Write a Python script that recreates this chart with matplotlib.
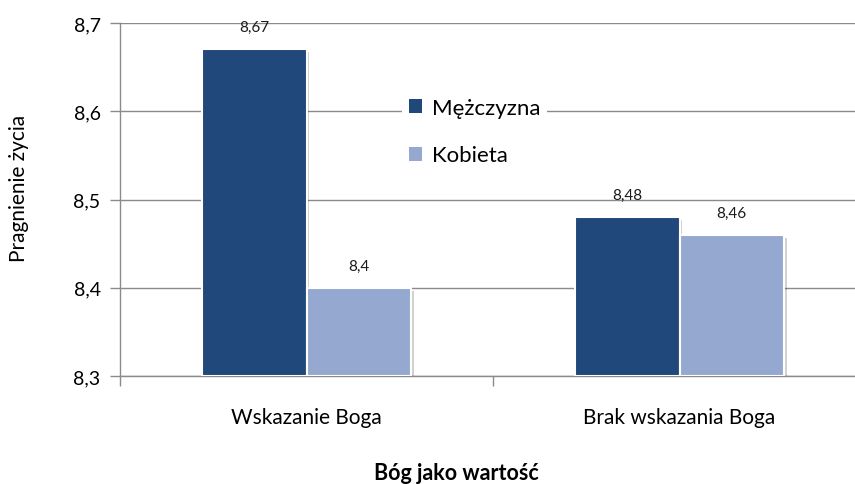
import matplotlib
matplotlib.use("Agg")
import matplotlib.pyplot as plt
import matplotlib.patheffects as pe
from matplotlib.ticker import FixedLocator, FuncFormatter

plt.rcParams["font.family"] = ["Lato", "DejaVu Sans"]

kategorie = ["Wskazanie Boga", "Brak wskazania Boga"]
mezczyzna = [8.67, 8.48]
kobieta = [8.40, 8.46]
seria = ["Mężczyzna", "Kobieta"]
os_y_ticks = [8.3, 8.4, 8.5, 8.6, 8.7]

COR = {"Mężczyzna": "#21487a", "Kobieta": "#95a9d0"}
SIATKA = "#8a8a8a"
W, H = 855, 485


def przecinek(v):
    s = f"{v:.2f}".rstrip("0").rstrip(".")
    return s.replace(".", ",")


fig = plt.figure(figsize=(W / 100, H / 100), dpi=100)
# prawy brzeg osi wychodzi poza obraz, jak w oryginalnym wykresie
ax = fig.add_axes([120 / W, 1 - 377 / H, 746 / W, 353 / H])

srodki = [i + 0.5 for i in range(len(kategorie))]
szer = 0.28
cien = [pe.SimplePatchShadow(offset=(2, -2), shadow_rgbFace="#000000", alpha=0.18),
        pe.Normal()]

for dane, przes, nazwa in ((mezczyzna, -szer / 2, seria[0]), (kobieta, szer / 2, seria[1])):
    x = [c + przes for c in srodki]
    wys = [v - 8.3 for v in dane]
    barras = ax.bar(x, wys, szer, bottom=8.3, color=COR[nazwa], edgecolor="white",
                    linewidth=1.5, label=nazwa, zorder=3)
    for b in barras:
        b.set_path_effects(cien)
    for xi, v in zip(x, dane):
        ax.annotate(przecinek(v), (xi, v), xytext=(0, 11), textcoords="offset points",
                    ha="center", va="bottom", fontsize=11, color="#1a1a1a")

ax.set_xlim(0, 2)
ax.set_ylim(8.3, 8.7)
ax.yaxis.set_major_locator(FixedLocator(os_y_ticks))
ax.yaxis.set_major_formatter(FuncFormatter(lambda v, _: f"{v:.1f}".replace(".", ",")))
ax.xaxis.set_major_locator(FixedLocator([0, 1, 2]))
ax.xaxis.set_major_formatter(FuncFormatter(lambda v, _: ""))
ax.xaxis.set_minor_locator(FixedLocator(srodki))
ax.set_xticklabels(kategorie, minor=True)

ax.tick_params(axis="y", length=7, width=1, color=SIATKA, labelsize=14, pad=7)
ax.tick_params(axis="x", which="major", length=7, width=1, color=SIATKA)
ax.tick_params(axis="x", which="minor", length=0, labelsize=15, pad=22)

ax.grid(axis="y", color=SIATKA, linewidth=1, zorder=0)
ax.set_axisbelow(True)
for lado in ("top", "right"):
    ax.spines[lado].set_visible(False)
for lado in ("left", "bottom"):
    ax.spines[lado].set_color(SIATKA)
    ax.spines[lado].set_linewidth(1)

ax.set_ylabel("Pragnienie życia", fontsize=15, va="center")
ax.yaxis.set_label_coords(19 / W, 1 - 188 / H, transform=fig.transFigure)
ax.set_xlabel("Bóg jako wartość", fontsize=15.5, fontweight="bold", va="center")
ax.xaxis.set_label_coords(456 / W, 1 - 474 / H, transform=fig.transFigure)

leg = ax.legend(loc="upper left", bbox_to_anchor=(402 / W, 1 - 92 / H),
                bbox_transform=fig.transFigure, frameon=True, fancybox=False,
                edgecolor="none", facecolor="white", framealpha=1, fontsize=16,
                handlelength=0.6, handleheight=0.6, handletextpad=0.45,
                labelspacing=1.25, borderpad=0.3, borderaxespad=0)
for h in leg.legend_handles:
    h.set_path_effects([])
    h.set_linewidth(0)

fig.savefig("out.png", dpi=100)
